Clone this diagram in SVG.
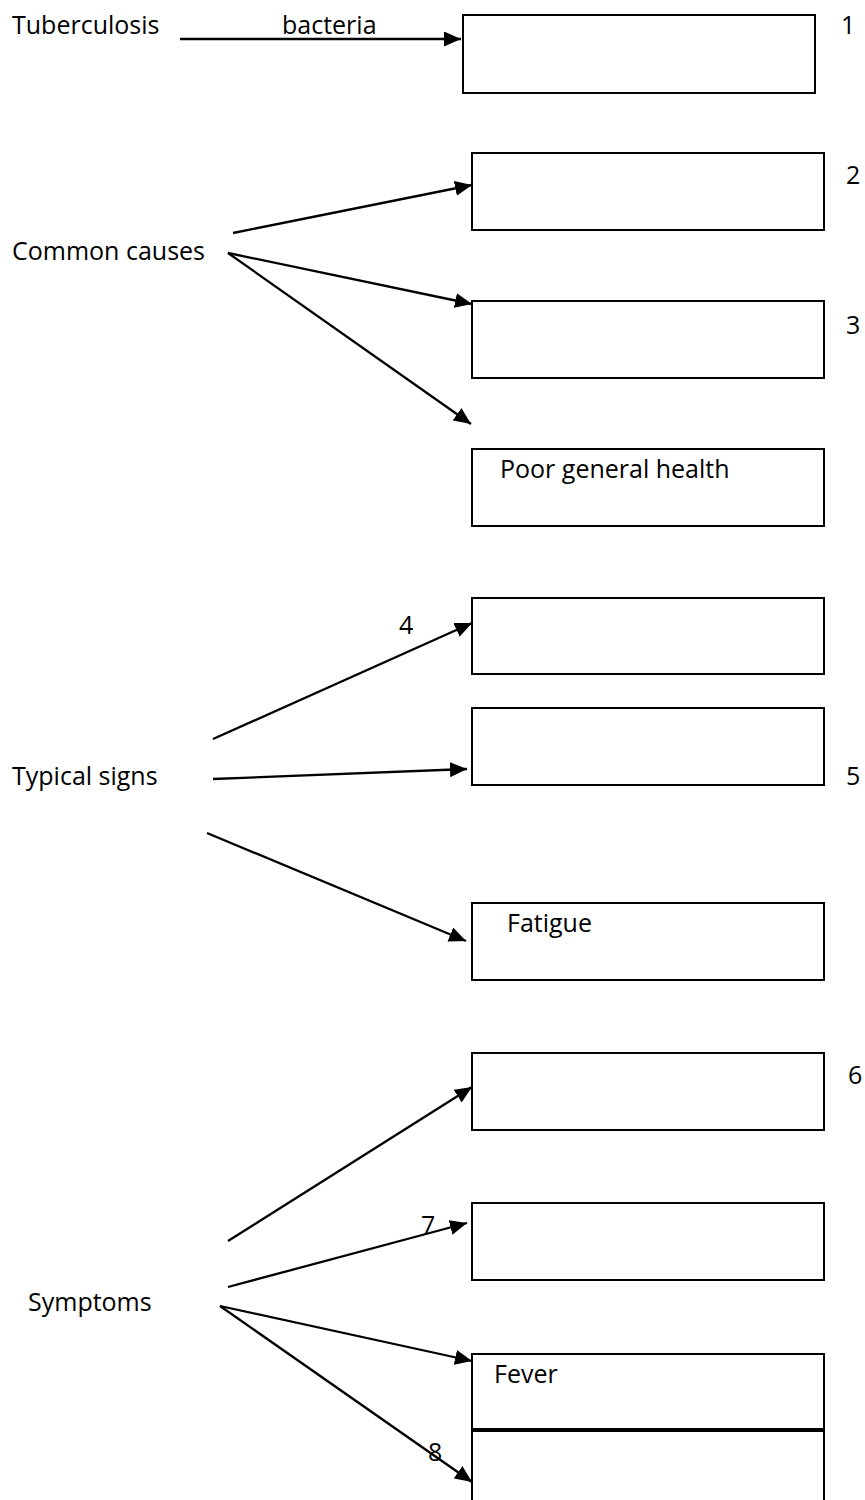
<svg xmlns="http://www.w3.org/2000/svg" width="865" height="1500" viewBox="0 0 865 1500">
<style>
  .box { fill: #fff; stroke: #000; stroke-width: 2; }
  .t { font-family: "Open Sans", "Noto Sans", "Liberation Sans", sans-serif; font-size: 25px; fill: #000; }
  .c { stroke: #000; stroke-width: 2.3; fill: none; marker-end: url(#ah); }
</style>
<defs>
  <marker id="ah" markerUnits="userSpaceOnUse" markerWidth="18" markerHeight="16" refX="17" refY="7.5" orient="auto">
    <path d="M0,0 L17,7.5 L0,15 z" fill="#000"/>
  </marker>
</defs>
<rect width="865" height="1500" fill="#fff"/>

<g id="connectors">
  <line class="c" x1="180" y1="39" x2="461" y2="39"/>
  <line class="c" x1="233" y1="233" x2="472" y2="185"/>
  <line class="c" x1="228" y1="253" x2="472" y2="304"/>
  <line class="c" x1="228" y1="253" x2="471" y2="424"/>
  <line class="c" x1="213" y1="739" x2="472" y2="623"/>
  <line class="c" x1="213" y1="779" x2="467" y2="769"/>
  <line class="c" x1="207" y1="833" x2="466" y2="941"/>
  <line class="c" x1="228" y1="1241" x2="472" y2="1087"/>
  <line class="c" x1="228" y1="1287" x2="467" y2="1223"/>
  <line class="c" x1="220" y1="1306" x2="472" y2="1361"/>
  <line class="c" x1="220" y1="1306" x2="472" y2="1482"/>
</g>

<g id="tuberculosis"><text class="t" x="12" y="34">Tuberculosis</text></g>
<g id="bacteria-label"><text class="t" x="282" y="34">bacteria</text></g>
<g id="box1"><rect class="box" x="463" y="15" width="352" height="78"/></g>
<g id="n1"><text class="t" x="841" y="34">1</text></g>

<g id="common-causes"><text class="t" x="12" y="260">Common causes</text></g>
<g id="box2"><rect class="box" x="472" y="153" width="352" height="77"/></g>
<g id="n2"><text class="t" x="846" y="184">2</text></g>
<g id="box3"><rect class="box" x="472" y="301" width="352" height="77"/></g>
<g id="n3"><text class="t" x="846" y="334">3</text></g>
<g id="box-poor"><rect class="box" x="472" y="449" width="352" height="77"/><text class="t" x="500" y="478">Poor general health</text></g>

<g id="typical-signs"><text class="t" x="12" y="785">Typical signs</text></g>
<g id="n4"><text class="t" x="399" y="634">4</text></g>
<g id="box4"><rect class="box" x="472" y="598" width="352" height="76"/></g>
<g id="box5"><rect class="box" x="472" y="708" width="352" height="77"/></g>
<g id="n5"><text class="t" x="846" y="785">5</text></g>
<g id="box-fatigue"><rect class="box" x="472" y="903" width="352" height="77"/><text class="t" x="507" y="932">Fatigue</text></g>

<g id="symptoms"><text class="t" x="28" y="1311">Symptoms</text></g>
<g id="box6"><rect class="box" x="472" y="1053" width="352" height="77"/></g>
<g id="n6"><text class="t" x="848" y="1084">6</text></g>
<g id="box7"><rect class="box" x="472" y="1203" width="352" height="77"/></g>
<g id="n7"><text class="t" x="421" y="1234">7</text></g>
<g id="box-fever"><rect class="box" x="472" y="1354" width="352" height="75"/><text class="t" x="494" y="1383">Fever</text></g>
<g id="box8"><rect class="box" x="472" y="1431" width="352" height="90"/></g>
<g id="n8"><text class="t" x="428" y="1461">8</text></g>
</svg>
